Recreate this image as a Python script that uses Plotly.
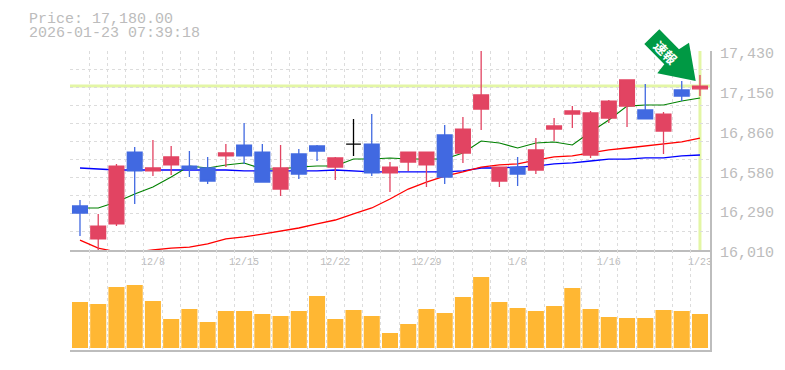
import plotly.graph_objects as go

# ---- data ----
open_ = [16324,16089,16196,16709,16574,16617,16609,16595,16681,16759,16709,16445,16695,16752,16602,16766,16766,16560,16638,16617,16831,16702,17016,16502,16602,16581,16873,16980,16688,16952,17037,17009,16859,17152,17160]
close = [16274,16181,16609,16574,16595,16674,16588,16502,16702,16681,16495,16595,16552,16716,16667,16766,16560,16602,16709,16709,16531,16873,17116,16602,16552,16724,16895,17002,16988,17073,17223,16945,16980,17109,17180]
high  = [16367,16267,16624,16745,16795,16752,16716,16674,16766,16916,16766,16759,16731,16759,16674,16945,16980,16638,16709,16709,16902,16959,17437,16602,16674,16809,16952,17037,17002,17080,17223,17195,16995,17216,17259]
low   = [16110,16010,16181,16338,16538,16545,16531,16481,16602,16624,16495,16395,16517,16645,16509,16681,16538,16424,16574,16460,16481,16631,16866,16460,16467,16552,16788,16881,16667,16916,16888,16945,16695,17073,17109]
ma_short = [16310,16310,16353,16410,16460,16531,16609,16595,16617,16631,16588,16588,16602,16609,16609,16659,16659,16667,16659,16659,16659,16702,16788,16773,16738,16773,16781,16759,16852,16938,17037,17045,17045,17073,17095]
ma_mid = [16081,16024,15996,15996,16010,16024,16031,16053,16089,16103,16124,16146,16167,16196,16224,16267,16310,16374,16445,16495,16538,16567,16602,16617,16624,16652,16674,16681,16702,16724,16738,16752,16766,16781,16809]
ma_long = [16595,16588,16581,16581,16581,16581,16581,16581,16581,16574,16574,16574,16574,16574,16581,16574,16567,16567,16567,16567,16567,16574,16595,16595,16602,16609,16624,16631,16645,16659,16659,16667,16667,16681,16688]
volume = [46,44,61,63,47,29,39,26,37,37,34,32,37,52,29,38,32,15,24,39,35,51,71,46,40,37,42,60,39,31,30,30,38,37,34]
x_labels = ["12/8","12/15","12/22","12/29","1/8","1/16","1/23"]
x_label_pos = [4,9,14,19,24,29,34]
y_ticks = [17430,17146,16862,16578,16294,16010]
y_labels = ["17,430","17,150","16,860","16,580","16,290","16,010"]
last_price = 17180
header = ["Price: 17,180.00","2026-01-23 07:39:18"]
badge = "速報"

# ---- styling ----
GRID="#dcdcdc"; AX="#bdbdbd"; TXT="#bcbcbc"; MONO="Liberation Mono"
UP="#E24462"; DOWN="#4169E1"; YEL="#E3F6A5"; VOL="#FFB733"; GREEN="#009944"
W,H=785,370; L,R,T,B=70,710,51,350
xr=[-0.548,34.55]; yr=[16010,17430]; split=100/(B-T)
px=lambda v:(v-L)/(R-L); py=lambda v:(B-v)/(B-T)
n=len(close); xs=list(range(n))

fig=go.Figure()
fig.add_trace(go.Scatter(x=xs,y=ma_long,mode="lines",line=dict(color="#0000FF",width=1.3),xaxis="x",yaxis="y"))
fig.add_trace(go.Scatter(x=xs,y=ma_mid,mode="lines",line=dict(color="#FF0000",width=1.3),xaxis="x",yaxis="y"))
fig.add_trace(go.Scatter(x=xs,y=ma_short,mode="lines",line=dict(color="#008000",width=1.1),xaxis="x",yaxis="y"))
fig.add_trace(go.Bar(x=xs,y=volume,marker=dict(color=VOL,line=dict(width=0)),xaxis="x2",yaxis="y2"))
real=[i for i in xs if open_[i]!=close[i]]; doji=[i for i in xs if open_[i]==close[i]]
pick=lambda a,idx:[a[i] for i in idx]
fig.add_trace(go.Candlestick(x=real,open=pick(open_,real),high=pick(high,real),low=pick(low,real),close=pick(close,real),
    increasing=dict(line=dict(color=UP,width=1.3),fillcolor=UP),decreasing=dict(line=dict(color=DOWN,width=1.3),fillcolor=DOWN),
    xaxis="x3",yaxis="y3"))
fig.add_trace(go.Candlestick(x=doji,open=pick(open_,doji),high=pick(high,doji),low=pick(low,doji),close=pick(close,doji),
    increasing=dict(line=dict(color="#000000",width=1.3)),decreasing=dict(line=dict(color="#000000",width=1.3)),
    xaxis="x3",yaxis="y3"))

grid=dict(showgrid=True,gridcolor=GRID,gridwidth=1,griddash="3px,3px",zeroline=False)
fig.update_layout(
    width=W,height=H,margin=dict(l=L,r=W-R,t=T,b=H-B,pad=0,autoexpand=False),autosize=False,
    paper_bgcolor="white",plot_bgcolor="white",showlegend=False,bargap=0.12,boxmode="overlay",boxgap=0.19,boxgroupgap=0,
    xaxis=dict(domain=[0,1],range=xr,tick0=-0.5,dtick=1,showticklabels=False,ticks="",showline=True,linecolor=AX,linewidth=2,anchor="y",**grid),
    yaxis=dict(domain=[split,1],range=yr,tick0=16010,dtick=1420/11,showticklabels=False,ticks="",side="right",showline=True,linecolor=AX,linewidth=2,anchor="x",**grid),
    xaxis2=dict(domain=[0,1],range=xr,tick0=-0.5,dtick=1,showticklabels=False,ticks="",showline=True,linecolor=AX,linewidth=2,anchor="y2",**grid),
    yaxis2=dict(domain=[0,split],range=[-2,98],showgrid=False,zeroline=False,showticklabels=False,ticks="",side="right",showline=True,linecolor=AX,linewidth=2,anchor="x2"),
    xaxis3=dict(overlaying="x",anchor="y3",range=xr,side="bottom",tickmode="array",tickvals=x_label_pos,ticktext=x_labels,showgrid=False,zeroline=False,
                ticks="",ticklabelstandoff=4,ticklabelshift=0,tickfont=dict(family=MONO,size=10,color=TXT),rangeslider=dict(visible=False),showline=False),
    yaxis3=dict(overlaying="y",anchor="x3",range=yr,side="right",tickmode="array",tickvals=y_ticks,ticktext=y_labels,showgrid=False,zeroline=False,
                ticks="",ticklabelstandoff=9,ticklabelshift=2,tickfont=dict(family=MONO,size=15,color=TXT),showline=False),
)
# price guide lines
fig.add_shape(type="line",xref="x",yref="y",x0=xr[0],x1=xr[1],y0=last_price,y1=last_price,line=dict(color=YEL,width=3),layer="below")
fig.add_shape(type="line",xref="x",yref="y",x0=n-1,x1=n-1,y0=yr[0],y1=yr[1],line=dict(color=YEL,width=3),layer="below")
# badge arrow
pts=[(644.3,44),(659.3,29.3),(679,49.3),(689,42.7),(695.7,81),(657.3,73.3),(664.3,64.3)]
path="M "+" L ".join(f"{px(a):.5f},{py(b):.5f}" for a,b in pts)+" Z"
fig.add_shape(type="path",xref="paper",yref="paper",path=path,fillcolor=GREEN,line=dict(width=0),layer="above")
fig.add_annotation(xref="paper",yref="paper",x=px(666),y=py(52),text=f"<b>{badge}</b>",textangle=45,showarrow=False,
    font=dict(family="Noto Sans CJK JP",size=13,color="white"),xanchor="center",yanchor="middle")
for t,yy in zip(header,[19,33]):
    fig.add_annotation(xref="paper",yref="paper",x=px(27),y=py(yy),text=t,showarrow=False,xanchor="left",yanchor="middle",
        font=dict(family=MONO,size=15,color=TXT))
fig.write_html("out.html",config=dict(displayModeBar=False),post_script="document.body.style.margin='0';document.body.style.overflow='hidden';")
